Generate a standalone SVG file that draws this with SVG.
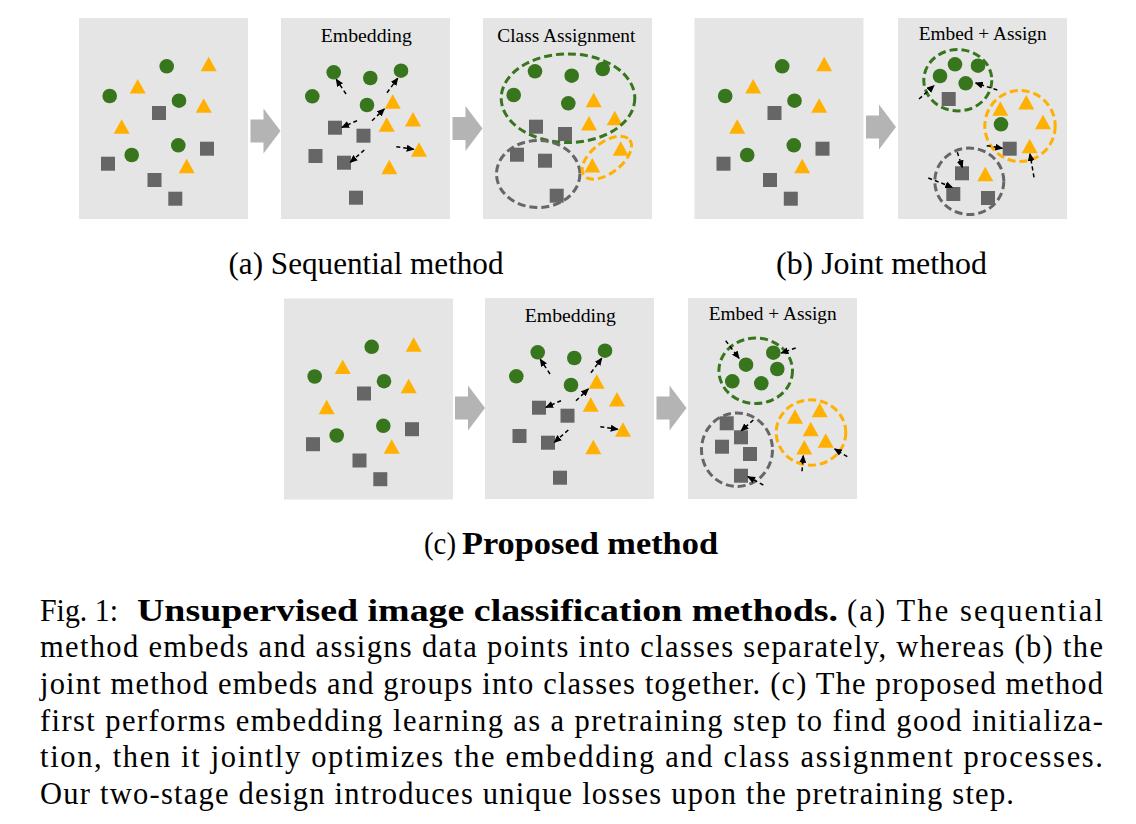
<svg xmlns="http://www.w3.org/2000/svg" xmlns:xlink="http://www.w3.org/1999/xlink" width="1136" height="824" viewBox="0 0 1136 824">
<style>
.bg{fill:#e5e5e5}
.c{fill:#38761d}
.t{fill:#ffb000}
.s{fill:#666666}
.ttl{font-family:"Liberation Serif","Times New Roman",serif;font-size:19px;fill:#000;text-anchor:middle}
.cap{font-family:"Liberation Serif","Times New Roman",serif;font-size:30.5px;fill:#000}
.b{font-weight:bold}
.dg{fill:none;stroke:#38761d;stroke-width:3;stroke-dasharray:8 4}
.dy{fill:none;stroke:#ffb000;stroke-width:3;stroke-dasharray:8 4}
.dk{fill:none;stroke:#666666;stroke-width:3;stroke-dasharray:8 4}
.da{fill:none;stroke:#000;stroke-width:1.5;stroke-dasharray:4 3;marker-end:url(#ah)}
.blk{fill:#b4b4b4}
</style>
<defs>
<marker id="ah" viewBox="0 0 8 7" refX="7" refY="3.5" markerWidth="8" markerHeight="7" markerUnits="userSpaceOnUse" orient="auto">
<path d="M0,0 L8,3.5 L0,7 Z" fill="#000"/>
</marker>
<polygon id="tri" points="0,0 8,14.5 -8,14.5"/>
<rect id="sq" width="14" height="14"/>
<path id="blkarrow" d="M0,-11.5 H13 V-22.5 L30,0 L13,22.5 V11.5 H0 Z"/>
<g id="scatter">
<circle class="c" cx="166.7" cy="66.3" r="7.3"/>
<circle class="c" cx="109.7" cy="96" r="7.3"/>
<circle class="c" cx="179" cy="100.7" r="7.3"/>
<circle class="c" cx="178.3" cy="145.3" r="7.3"/>
<circle class="c" cx="131.7" cy="155" r="7.3"/>
<use href="#tri" class="t" x="208.7" y="56.7"/>
<use href="#tri" class="t" x="137.7" y="79"/>
<use href="#tri" class="t" x="203.7" y="98.3"/>
<use href="#tri" class="t" x="121.7" y="119.3"/>
<use href="#tri" class="t" x="186.7" y="158.7"/>
<use href="#sq" class="s" x="152" y="106"/>
<use href="#sq" class="s" x="200" y="141.7"/>
<use href="#sq" class="s" x="101" y="156.7"/>
<use href="#sq" class="s" x="147.5" y="173"/>
<use href="#sq" class="s" x="168.3" y="191.7"/>
</g>
<g id="embed">
<text class="ttl" x="366.3" y="42" textLength="91" lengthAdjust="spacingAndGlyphs">Embedding</text>
<circle class="c" cx="333.7" cy="72.3" r="7.3"/>
<circle class="c" cx="370.3" cy="78" r="7.3"/>
<circle class="c" cx="401" cy="70.7" r="7.3"/>
<circle class="c" cx="312.3" cy="96.3" r="7.3"/>
<circle class="c" cx="367" cy="105" r="7.3"/>
<use href="#tri" class="t" x="392.7" y="94.3"/>
<use href="#tri" class="t" x="413" y="112"/>
<use href="#tri" class="t" x="386.7" y="117.3"/>
<use href="#tri" class="t" x="419" y="142.3"/>
<use href="#tri" class="t" x="389.3" y="159.7"/>
<use href="#sq" class="s" x="328" y="120.7"/>
<use href="#sq" class="s" x="356.5" y="128.7"/>
<use href="#sq" class="s" x="308.5" y="149"/>
<use href="#sq" class="s" x="337" y="155.7"/>
<use href="#sq" class="s" x="349" y="190.7"/>
</g>
<g id="embedArrows">
<line class="da" x1="346" y1="94" x2="336.3" y2="79.3"/>
<line class="da" x1="387" y1="92.7" x2="397.7" y2="78.3"/>
<line class="da" x1="357" y1="120.7" x2="342" y2="127.3"/>
<line class="da" x1="372" y1="120.7" x2="384.3" y2="109"/>
<line class="da" x1="364.3" y1="150" x2="350.3" y2="162.3"/>
<line class="da" x1="396.3" y1="146.7" x2="413.7" y2="149.3"/>
</g>
</defs>

<g id="panel-a1">
<rect class="bg" x="79" y="18" width="169" height="201"/>
<use href="#scatter"/>
</g>

<g id="panel-a2">
<rect class="bg" x="281" y="18" width="169" height="201"/>
<use href="#embed"/>
</g>

<g id="panel-a3">
<rect class="bg" x="483" y="18" width="169" height="201"/>
<text class="ttl" x="566.3" y="42" textLength="138" lengthAdjust="spacingAndGlyphs">Class Assignment</text>
<circle class="c" cx="535" cy="71.3" r="7.3"/>
<circle class="c" cx="571.7" cy="75.7" r="7.3"/>
<circle class="c" cx="602.7" cy="69" r="7.3"/>
<circle class="c" cx="513.7" cy="95" r="7.3"/>
<circle class="c" cx="568.3" cy="103.3" r="7.3"/>
<use href="#tri" class="t" x="593.7" y="92.7"/>
<use href="#tri" class="t" x="614.7" y="110.7"/>
<use href="#tri" class="t" x="589" y="116"/>
<use href="#tri" class="t" x="620.7" y="141.3"/>
<use href="#tri" class="t" x="592.3" y="158"/>
<use href="#sq" class="s" x="529" y="119.7"/>
<use href="#sq" class="s" x="558" y="127"/>
<use href="#sq" class="s" x="510" y="147.7"/>
<use href="#sq" class="s" x="538" y="153.7"/>
<use href="#sq" class="s" x="549.7" y="188.7"/>
<ellipse class="dg" cx="568" cy="98.2" rx="66.8" ry="44.3"/>
<ellipse class="dk" cx="538.2" cy="174" rx="41.7" ry="33.5"/>
<ellipse class="dy" cx="0" cy="0" rx="29" ry="15.3" transform="translate(606.8 157.7) rotate(-38)"/>
</g>

<g id="panel-b1">
<rect class="bg" x="694.5" y="18" width="169" height="201"/>
<use href="#scatter" transform="translate(615.5 0)"/>
</g>

<g id="panel-b2">
<rect class="bg" x="898" y="18" width="169" height="201"/>
<text class="ttl" x="982.7" y="40" textLength="128" lengthAdjust="spacingAndGlyphs">Embed + Assign</text>
<circle class="c" cx="955" cy="64.3" r="7.3"/>
<circle class="c" cx="978" cy="65.7" r="7.3"/>
<circle class="c" cx="940" cy="76" r="7.3"/>
<circle class="c" cx="965.7" cy="83.3" r="7.3"/>
<circle class="c" cx="1001" cy="124.3" r="7.3"/>
<use href="#tri" class="t" x="1000.3" y="101.3"/>
<use href="#tri" class="t" x="1026.3" y="95"/>
<use href="#tri" class="t" x="1043" y="114.7"/>
<use href="#tri" class="t" x="1029.7" y="138.7"/>
<use href="#tri" class="t" x="985.3" y="166.7"/>
<use href="#sq" class="s" x="941.7" y="92"/>
<use href="#sq" class="s" x="1002.7" y="141.7"/>
<use href="#sq" class="s" x="955" y="166.3"/>
<use href="#sq" class="s" x="946.3" y="187"/>
<use href="#sq" class="s" x="981" y="191"/>
<ellipse class="dg" cx="957.8" cy="80.2" rx="34" ry="30.7"/>
<ellipse class="dy" cx="1020" cy="126" rx="35.2" ry="35.5"/>
<ellipse class="dk" cx="969.3" cy="181.3" rx="34.5" ry="33.2"/>
</g>

<g id="panel-c1">
<rect class="bg" x="284" y="298.5" width="169" height="201"/>
<use href="#scatter" transform="translate(205 280.5)"/>
</g>

<g id="panel-c2">
<rect class="bg" x="485" y="298" width="169" height="201"/>
<use href="#embed" transform="translate(204 280)"/>
</g>

<g id="panel-c3">
<rect class="bg" x="688" y="298" width="169" height="201"/>
<text class="ttl" x="772.7" y="320" textLength="128" lengthAdjust="spacingAndGlyphs">Embed + Assign</text>
<circle class="c" cx="773.3" cy="352.7" r="7.3"/>
<circle class="c" cx="746" cy="364.7" r="7.3"/>
<circle class="c" cx="777.3" cy="369" r="7.3"/>
<circle class="c" cx="732.3" cy="381.3" r="7.3"/>
<circle class="c" cx="761.3" cy="383.3" r="7.3"/>
<use href="#tri" class="t" x="795" y="409.3"/>
<use href="#tri" class="t" x="819.7" y="402.7"/>
<use href="#tri" class="t" x="810.7" y="421.7"/>
<use href="#tri" class="t" x="825.7" y="433.3"/>
<use href="#tri" class="t" x="804.3" y="440"/>
<use href="#sq" class="s" x="719.7" y="416.3"/>
<use href="#sq" class="s" x="734" y="430.3"/>
<use href="#sq" class="s" x="715" y="439.7"/>
<use href="#sq" class="s" x="743" y="447"/>
<use href="#sq" class="s" x="734" y="468.7"/>
<ellipse class="dg" cx="755.7" cy="370.8" rx="36.8" ry="32.7"/>
<ellipse class="dy" cx="811" cy="432.5" rx="34.8" ry="32.7"/>
<ellipse class="dk" cx="737" cy="449.7" rx="35.5" ry="36.8"/>
</g>

<g id="connectors">
<use href="#blkarrow" class="blk" x="250.5" y="131"/>
<use href="#blkarrow" class="blk" x="452.5" y="128.5"/>
<use href="#blkarrow" class="blk" x="866" y="127"/>
<use href="#blkarrow" class="blk" x="455" y="408"/>
<use href="#blkarrow" class="blk" x="656.5" y="408"/>
<use href="#embedArrows"/>
<use href="#embedArrows" transform="translate(204 280)"/>
<line class="da" x1="919" y1="99" x2="934" y2="85.7"/>
<line class="da" x1="997.3" y1="90" x2="975.7" y2="83"/>
<line class="da" x1="986.7" y1="145.7" x2="1002.3" y2="148.3"/>
<line class="da" x1="1034" y1="177.3" x2="1030" y2="154"/>
<line class="da" x1="957.3" y1="152.3" x2="962.3" y2="167.3"/>
<line class="da" x1="928.3" y1="178" x2="952.3" y2="187.3"/>
<line class="da" x1="725.7" y1="340.7" x2="739" y2="358.3"/>
<line class="da" x1="795.7" y1="348" x2="781.3" y2="353"/>
<line class="da" x1="753.3" y1="420" x2="741.3" y2="430.7"/>
<line class="da" x1="763.3" y1="485" x2="748" y2="476.7"/>
<line class="da" x1="847.3" y1="456.7" x2="834.7" y2="449"/>
<line class="da" x1="802" y1="471.3" x2="803.3" y2="455.7"/>
</g>

<g id="captions">
<text class="cap" x="228.5" y="273.5" textLength="275" lengthAdjust="spacingAndGlyphs">(a) Sequential method</text>
<text class="cap" x="776" y="273.5" textLength="211" lengthAdjust="spacingAndGlyphs">(b) Joint method</text>
<text class="cap" x="424" y="553.5" textLength="32" lengthAdjust="spacingAndGlyphs">(c)</text>
<text class="cap b" x="462" y="553.5" textLength="256" lengthAdjust="spacingAndGlyphs">Proposed method</text>
</g>

<g id="figure-caption">
<text class="cap" x="40" y="620.5" textLength="78" lengthAdjust="spacingAndGlyphs">Fig. 1:</text>
<text class="cap b" x="137" y="620.5" textLength="701" lengthAdjust="spacingAndGlyphs">Unsupervised image classification methods.</text>
<text class="cap" x="847" y="620.5" textLength="256" lengthAdjust="spacing">(a) The sequential</text>
<text class="cap" x="40" y="657" textLength="1063" lengthAdjust="spacing">method embeds and assigns data points into classes separately, whereas (b) the</text>
<text class="cap" x="40" y="694" textLength="1063" lengthAdjust="spacing">joint method embeds and groups into classes together. (c) The proposed method</text>
<text class="cap" x="40" y="730.5" textLength="1063" lengthAdjust="spacing">first performs embedding learning as a pretraining step to find good initializa-</text>
<text class="cap" x="40" y="767" textLength="1063" lengthAdjust="spacing">tion, then it jointly optimizes the embedding and class assignment processes.</text>
<text class="cap" x="40" y="803.5" textLength="974" lengthAdjust="spacing">Our two-stage design introduces unique losses upon the pretraining step.</text>
</g>
</svg>
